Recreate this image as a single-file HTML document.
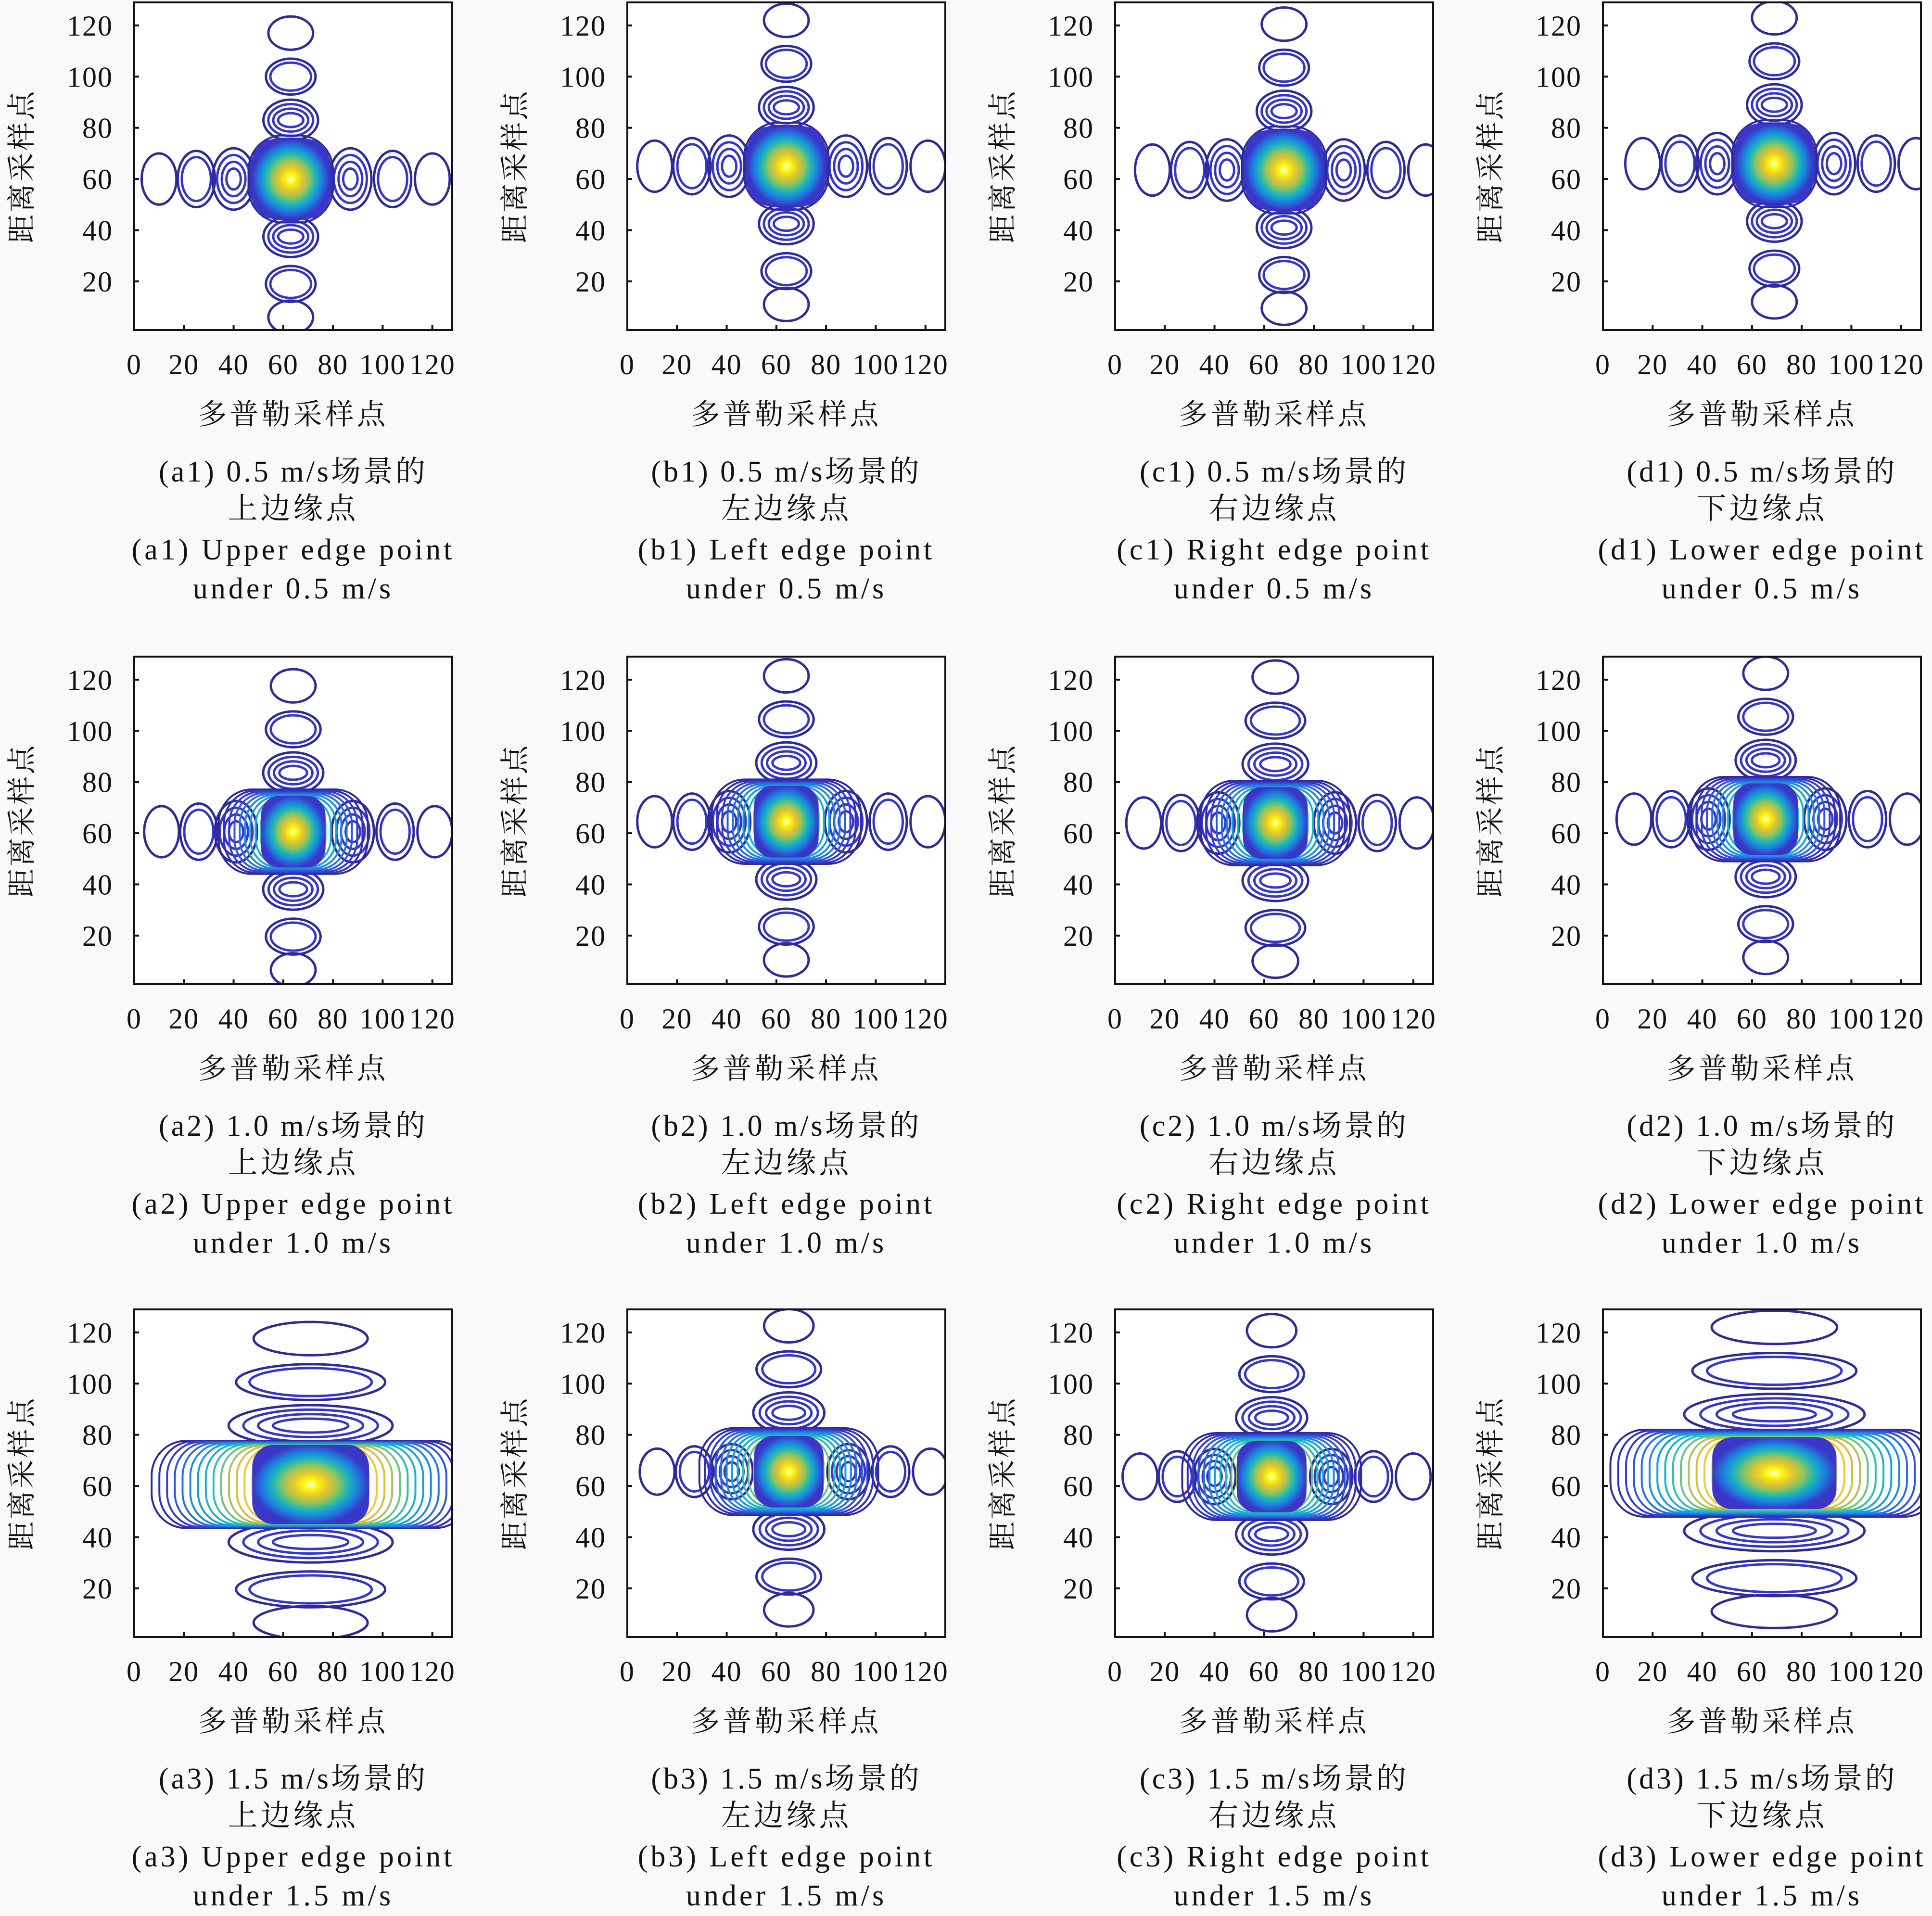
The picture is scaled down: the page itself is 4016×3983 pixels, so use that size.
<!DOCTYPE html>
<html><head><meta charset="utf-8">
<style>
html,body{margin:0;padding:0;background:#f9f9f9;}
svg{display:block;}
text{fill:#111;}
.lat{font-family:"Liberation Serif","Noto Serif CJK SC",serif;}
.cjk{font-family:"Liberation Serif","Noto Serif CJK SC","Noto Sans CJK SC",serif;}
</style></head>
<body>
<svg id="fig" width="4016" height="3983" viewBox="0 0 4016 3983" xmlns="http://www.w3.org/2000/svg">
<rect width="4016" height="3983" fill="#f9f9f9"/>
<defs>
<radialGradient id="mainGrad" cx="50%" cy="50%" r="50%">
<stop offset="0" stop-color="#fffff0"/>
<stop offset="0.12" stop-color="#f9fb0e"/>
<stop offset="0.3" stop-color="#e6c52e"/>
<stop offset="0.48" stop-color="#8ec45e"/>
<stop offset="0.64" stop-color="#1fb7b5"/>
<stop offset="0.8" stop-color="#1a86e0"/>
<stop offset="1" stop-color="#3a36c8"/>
</radialGradient>
</defs>
</svg>
<script>
// ---- data (per panel: a1,b1,c1,d1,a2,b2,c2,d2,a3,b3,c3,d3) ----
const panelIds = ['a1','b1','c1','d1','a2','b2','c2','d2','a3','b3','c3','d3'];
const centerX = [63,64,68,69, 64,64,64.5,65.5, 71,65,63,69];
const centerY = [60,65,63.5,66, 60.6,64.5,64,65.5, 60.6,65.6,63.7,65];
const mainHx = [15.5,15.5,15.5,15.5, 13,13,13,13, 23.5,14,14,25];
const mainHy = [15.5,15.5,15.5,15.5, 14,14,14,14, 15.5,14,14,14];
const mainRingX = [17,17,17,17, 30,30,30,30, 64,36,36,66];
const mainRingY = [17,17,17,17, 16.5,16.5,16.5,16.5, 17,17,17,17];
const mainRingCount = [3,3,3,3, 9,9,9,9, 14,11,11,14];
const hOffsets = [-53,-38,-23,24,41,57];
const hRx = [7,7.5,8.5,8.5,7.5,7];
const hRy = [10,11,12,12,11,10];
const hRings = [1,2,4,4,2,1];
const hShow = [1,1,1,1, 1,1,1,1, 0,1,1,0];
const vOffsets = [57,40,23,-22.5,-41,-54];
const vRx = [9,10,11,11,10,9];
const vRy = [6.5,7,8,8,7,6.5];
const vRings = [1,2,4,4,2,1];
const vSpread = [1,1,1,1, 1.1,1.1,1.2,1.1, 3.0,1.3,1.3,3.3];
const speeds = ['0.5','0.5','0.5','0.5','1.0','1.0','1.0','1.0','1.5','1.5','1.5','1.5'];
const edgeCn = ['上边缘点','左边缘点','右边缘点','下边缘点'];
const edgeEn = ['Upper edge point','Left edge point','Right edge point','Lower edge point'];
const xTicks = [0,20,40,60,80,100,120];
const yTicks = [20,40,60,80,100,120];
// ---- layout ----
const colLeft = [279,1304,2318,3332];
const rowTop = [5,1365,2722];
const W = 661, H = 681;
const NS = 'http://www.w3.org/2000/svg';
const fig = document.getElementById('fig');
function mk(tag, attrs, parent){
  const e = document.createElementNS(NS, tag);
  for (const k in attrs) e.setAttribute(k, attrs[k]);
  (parent||fig).appendChild(e);
  return e;
}
const ringCols = ['#2e2a9a','#3030b8','#3a3ad0','#2f55d8','#2a70de','#1f8ae0','#16a0d8','#14b4cc','#2ebfb0','#66c486','#a8c25c','#d9bd3c','#f0c830','#f7e020'];
panelIds.forEach((pid, i) => {
  const col = i % 4, row = Math.floor(i / 4);
  const L = colLeft[col], T = rowTop[row], B = T + H;
  const xs = v => L + v * W / 128;
  const ys = v => B - (v - 1) * H / 128;
  const sx = W / 128, sy = H / 128;
  const g = mk('g', {});
  
  
  const cp = mk('clipPath', {id: 'clip' + pid}, g);
  mk('rect', {x: L, y: T, width: W, height: H}, cp);
  const plot = mk('g', {'clip-path': 'url(#clip' + pid + ')'}, g);
  
  
  mk('rect', {x: L, y: T, width: W, height: H, fill: '#ffffff'}, plot);
  const cx = centerX[i], cy = centerY[i];
  if (hShow[i]) hOffsets.forEach((o, j) => {
    for (let r = 0; r < hRings[j]; r++) {
      const f = 1 - r * 0.22;
      const e = mk('ellipse', {cx: xs(cx + o), cy: ys(cy), rx: hRx[j] * f * sx, ry: hRy[j] * f * sy * (row === 2 ? 0.9 : 1),
        fill: 'none', stroke: r === 0 ? '#2e2a9a' : '#3636c8', 'stroke-width': 5}, plot);
      
      
    }
  });
  vOffsets.forEach((o, j) => {
    const rxv = vRx[j] * (j === 0 || j === 5 ? Math.max(1, vSpread[i] * 0.85) : vSpread[i]);
    for (let r = 0; r < vRings[j]; r++) {
      const f = 1 - r * 0.22;
      const e = mk('ellipse', {cx: xs(cx), cy: ys(cy + o), rx: rxv * (1 - r * 0.18) * sx, ry: vRy[j] * f * sy,
        fill: 'none', stroke: r === 0 ? '#2e2a9a' : '#3636c8', 'stroke-width': 5}, plot);
      
      
    }
  });
  const n = mainRingCount[i];
  for (let r = 0; r < n; r++) {
    const t = r / Math.max(1, n - 1);
    const hx = mainRingX[i] + (mainHx[i] - mainRingX[i]) * t;
    const hy = mainRingY[i] + (mainHy[i] - 1 - mainRingY[i]) * t;
    const e = mk('rect', {x: xs(cx - hx), y: ys(cy + hy), width: 2 * hx * sx, height: 2 * hy * sy,
      rx: Math.min(hx, hy) * 0.8 * sx, ry: hy * 0.8 * sy,
      fill: 'none', stroke: ringCols[Math.min(r, ringCols.length - 1)], 'stroke-width': 4}, plot);
    
    
  }
  const mf = mk('rect', {x: xs(cx - mainHx[i]), y: ys(cy + mainHy[i]), width: 2 * mainHx[i] * sx, height: 2 * mainHy[i] * sy,
    rx: Math.min(mainHx[i], mainHy[i]) * 0.55 * sx, ry: mainHy[i] * 0.55 * sy, fill: 'url(#mainGrad)'}, plot);
  
  
  const fr = mk('rect', {x: L, y: T, width: W, height: H, fill: 'none', stroke: '#111', 'stroke-width': 4}, g);
  
  
  xTicks.forEach(v => {
    const tk = mk('line', {x1: xs(v), x2: xs(v), y1: B, y2: B - 10, stroke: '#111', 'stroke-width': 4}, g);
    
    
    const tl = mk('text', {x: xs(v), y: B + 92, 'text-anchor': 'middle', 'font-size': 60, 'letter-spacing': 2, class: 'lat'}, g);
    tl.textContent = v;
    
    
  });
  yTicks.forEach(v => {
    const tk = mk('line', {x1: L, x2: L + 10, y1: ys(v), y2: ys(v), stroke: '#111', 'stroke-width': 4}, g);
    
    
    const tl = mk('text', {x: L - 44, y: ys(v) + 21, 'text-anchor': 'end', 'font-size': 60, 'letter-spacing': 2, class: 'lat'}, g);
    tl.textContent = v;
    
    
  });
  const mid = L + W / 2;
  const xl = mk('text', {x: mid, y: B + 196, 'text-anchor': 'middle', 'font-size': 60, 'letter-spacing': 6, class: 'cjk'}, g);
  xl.textContent = '多普勒采样点';
  
  
  const yx = L - 233, yy = T + H / 2;
  const yl = mk('text', {x: yx, y: yy + 20, 'text-anchor': 'middle', 'font-size': 60, 'letter-spacing': 4, class: 'cjk', transform: 'rotate(-90 ' + yx + ' ' + yy + ')'}, g);
  yl.textContent = '距离采样点';
  
  
  const caps = ['(' + pid + ') ' + speeds[i] + ' m/s场景的', edgeCn[col], '(' + pid + ') ' + edgeEn[col], 'under ' + speeds[i] + ' m/s'];
  const offs = [315, 392, 477, 558];
  const ls = [5, 6, 6, 6];
  caps.forEach((c, k) => {
    const ct = mk('text', {x: mid, y: B + offs[k], 'text-anchor': 'middle', 'font-size': 62, 'letter-spacing': ls[k], class: 'cjk'}, g);
    ct.textContent = c;
    
    
  });
});
</script>
</body></html>
